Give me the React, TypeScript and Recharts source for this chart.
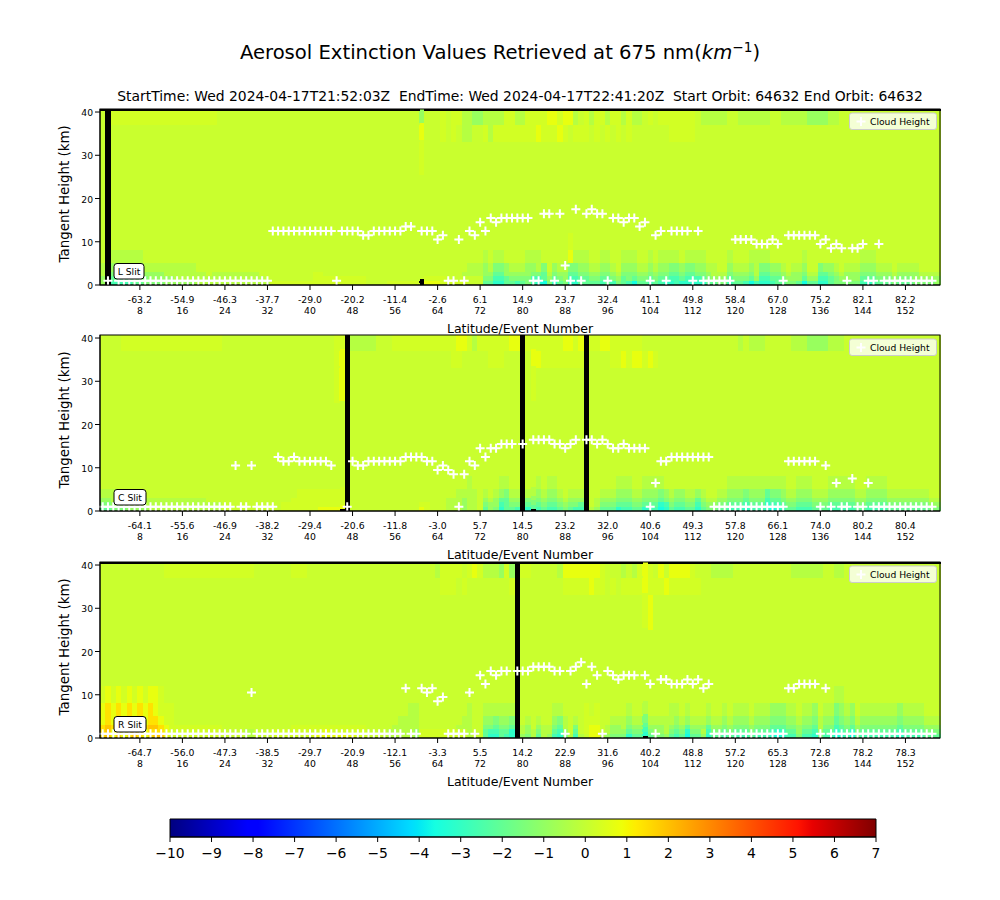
import React from "react";
import { ComposedChart, Bar, Line, XAxis, YAxis } from "recharts";

const FONT = "'DejaVu Sans', sans-serif";
const _ = null;

const eventTicks = [8, 16, 24, 32, 40, 48, 56, 64, 72, 80, 88, 96, 104, 112, 120, 128, 136, 144, 152];
const latL = ["-63.2", "-54.9", "-46.3", "-37.7", "-29.0", "-20.2", "-11.4", "-2.6", "6.1", "14.9", "23.7", "32.4", "41.1", "49.8", "58.4", "67.0", "75.2", "82.1", "82.2"];
const latC = ["-64.1", "-55.6", "-46.9", "-38.2", "-29.4", "-20.6", "-11.8", "-3.0", "5.7", "14.5", "23.2", "32.0", "40.6", "49.3", "57.8", "66.1", "74.0", "80.2", "80.4"];
const latR = ["-64.7", "-56.0", "-47.3", "-38.5", "-29.7", "-20.9", "-12.1", "-3.3", "5.5", "14.2", "22.9", "31.6", "40.2", "48.8", "57.2", "65.3", "72.8", "78.2", "78.3"];

const heightTicks = [0, 10, 20, 30, 40];
const bandEdges = [0, 1, 2, 3, 5, 8, 12, 25, 33, 37, 40.35];
const colorTicks = [-10, -9, -8, -7, -6, -5, -4, -3, -2, -1, 0, 1, 2, 3, 4, 5, 6, 7];

// Extinction value for each letter used in the band strings below.
const levelValues: Record<string, number> = {
  "0": -3.6, "1": -3.1, "2": -2.6, "3": -2.0, "4": -1.4, "5": -0.9, "6": -0.3,
  "7": 0.1, "8": 0.3, "9": 0.75, A: 1.4, B: 1.9,
};

const cloudL = [
  _, 1, _, 1, 1, 1, 1, 1, 1, 1,
  1, 1, 1, 1, 1, 1, 1, 1, 1, 1,
  1, 1, 1, 1, 1, 1, 1, 1, 1, 1,
  1, 1, 12.5, 12.5, 12.5, 12.5, 12.5, 12.5, 12.5, 12.5,
  12.5, 12.5, 12.5, 12.5, 1, 12.5, 12.5, 12.5, 12.5, 11.5,
  11.5, 12.5, 12.5, 12.5, 12.5, 12.5, 12.5, 13.5, 13.5, _,
  12.5, 12.5, 12.5, 10.5, 11.5, 1, 1, 10.5, 1, 12.5,
  11.5, 14.5, 12.5, 15.5, 14.5, 15.5, 15.5, 15.5, 15.5, 15.5,
  15.5, 1, 1, 16.5, 16.5, 1, 16.5, 4.5, 1, 17.5,
  1, 16.5, 17.5, 16.5, 16.5, 1, 15.5, 15.5, 14.5, 15.5,
  15.5, 13.5, 14.5, 1, 11.5, 12.5, 1, 12.5, 12.5, 12.5,
  12.5, 1, 12.5, 1, 1, 1, 1, 1, 1, 10.5,
  10.5, 10.5, 10.5, 9.5, 9.5, 9.5, 10.5, 9.5, 1, 11.5,
  11.5, 11.5, 11.5, 11.5, 11.5, 9.5, 10.5, 8.5, 9.5, 8.5,
  1, 8.5, 8.5, 9.5, 1, 1, 9.5, 1, 1, 1,
  1, 1, 1, 1, 1, 1, 1, _,
];
const cloudC = [
  1, 1, 1, 1, 1, 1, 1, 1, 1, 1,
  1, 1, 1, 1, 1, 1, 1, 1, 1, 1,
  1, 1, 1, 1, 1, 10.5, 1, 1, 10.5, 1,
  1, 1, 1, 12.5, 11.5, 11.5, 12.5, 11.5, 11.5, 11.5,
  11.5, 11.5, 11.5, 10.5, _, _, 1, 11.5, 10.5, 10.5,
  11.5, 11.5, 11.5, 11.5, 11.5, 11.5, 11.5, 12.5, 12.5, 12.5,
  12.5, 11.5, 11.5, 9.5, 10.5, 9.5, 8.5, 1, 8.5, 11.5,
  10.5, 14.5, 12.5, 14.5, 14.5, 15.5, 15.5, 15.5, _, 15.5,
  _, 16.5, 16.5, 16.5, 16.5, 15.5, 15.5, 14.5, 15.5, 16.5,
  _, 16.5, 16.5, 15.5, 16.5, 15.5, 14.5, 14.5, 15.5, 14.5,
  14.5, 14.5, 14.5, 1, 6.5, 11.5, 11.5, 12.5, 12.5, 12.5,
  12.5, 12.5, 12.5, 12.5, 12.5, 1, 1, 1, 1, 1,
  1, 1, 1, 1, 1, 1, 1, 1, 1, 11.5,
  11.5, 11.5, 11.5, 11.5, 11.5, 1, 10.5, 1, 6.5, 1,
  1, 7.5, 1, 1, 6.5, 1, 1, 1, 1, 1,
  1, 1, 1, 1, 1, 1, 1, _,
];
const cloudR = [
  1, 1, 1, 1, 1, 1, 1, 1, 1, 1,
  1, 1, 1, 1, 1, 1, 1, 1, 1, 1,
  1, 1, 1, 1, 1, 1, 1, 1, 10.5, 1,
  1, 1, 1, 1, 1, 1, 1, 1, 1, 1,
  1, 1, 1, 1, 1, 1, 1, 1, 1, 1,
  1, 1, 1, 1, 1, 1, 1, 11.5, 1, 1,
  11.5, 10.5, 11.5, 8.5, 9.5, 1, 1, 1, 1, 10.5,
  1, 14.5, 12.5, 15.5, 14.5, 15.5, 15.5, _, 15.5, 15.5,
  15.5, 16.5, 16.5, 16.5, 16.5, 15.5, 15.5, 1, 15.5, 16.5,
  17.5, 12.5, 16.5, 14.5, 1, 15.5, 14.5, 13.5, 14.5, 14.5,
  14.5, _, 14.5, 12.5, 1, 13.5, 13.5, 12.5, 12.5, 12.5,
  13.5, 12.5, 13.5, 11.5, 12.5, 1, 1, 1, 1, 1,
  1, 1, 1, 1, 1, 1, 1, 1, 1, 11.5,
  11.5, 12.5, 12.5, 12.5, 12.5, 1, 11.5, 1, 1, 1,
  1, 1, 1, 1, 1, 1, 1, 1, 1, 1,
  1, 1, 1, 1, 1, 1, 1, _,
];

// Each string: one height band, one letter per event, 10 events per group ("x" = no data).
const bandsL = [
  "5x22223344 4455555566 6666666666 6688888888 8888888888 7777888888 x999888887 7733113323 4210413411 3333232432 0332321121 1111334423 3202112334 4303311344 4442123334 33344445",
  "5x33334445 5555666666 6666666666 6777777777 8888888888 7777777777 7888877777 7744223444 4223534522 3344334534 3443433223 2223455534 4435223345 5535522345 5553334445 44455555",
  "6x44444555 5566666666 7666666666 7777777777 8877777777 7777777777 7777777766 6655335555 5443645533 4455445644 4554544334 3344566645 5546334456 5546633456 5554445556 55556666",
  "6x55555566 6666666677 7777777777 7777777777 7777777777 7777777777 7777777776 6656445666 5564756644 5566556755 5665655445 4455667756 6656445567 6657745567 6665556667 66667777",
  "7x66666677 7777777777 7777777777 7777777777 7777777777 7777777777 7777777777 7767667777 6667777796 6677667766 6776766667 6666777767 7766667777 7767777777 7776667777 77777777",
  "7x77777777 7777777777 7777777777 7777777777 7777777777 7777777777 7777777777 7777777777 7777777787 7777777777 7777777777 7777777777 7777777777 7777777777 7777777777 77777777",
  "7x77777777 7777777777 7777777777 7777777777 7777777777 7777777777 7777777777 7777777777 7777777777 7777777777 7777777777 7777777777 7777777777 7777777777 7777777777 77777777",
  "7x77777777 7777777777 7777777777 7777777777 7777777777 7777777777 8777777777 7777777777 7777777777 7777777777 7777777777 7777777777 7777777777 7777777777 7777777777 77777777",
  "7x77777777 7777777777 7777777777 7777777777 7777777777 7777777777 9777878766 7786888888 8898889878 8878787878 7777777888 8877777777 7777777777 7777777777 7777777777 77777777",
  "7x88888888 8888888888 8877777777 7777777777 7777777777 7777777777 5777878866 5566668866 8888998996 7868868868 6678788888 8876666677 6666667766 6665555667 7777777777 77777777",
];
const bandsC = [
  "3344455556 6666666666 6667777777 7777888888 899999x777 7777777777 9877766656 673541332x 1323223432 2x65333122 3312201322 3313443322 2122210123 3222333222 2233222233 33333344",
  "4455566666 6666666666 6667777777 7777888888 888888x777 7777777777 8877766656 674552344x 3434334544 3x76444333 4433312433 4424554433 3233312234 4333444333 3344333344 44444455",
  "5566666666 6666666666 7777777777 7777778888 888888x777 7777777777 7777766656 675653355x 4545445655 5x76555444 5544434544 5535665544 4344423345 5444555444 4455444455 55555566",
  "6666777777 7777777777 7777777777 7777777888 888888x777 7777777777 7777777666 676765466x 6656556766 6x77666555 6655545655 6656776655 5455534456 6555666555 5566555566 66666677",
  "7777777777 7777777777 7777777777 7777777777 777777x777 7777777777 7777777776 777776677x 7767667777 7x77777666 7766667777 7777777766 6666666667 7666777666 6677666677 77777777",
  "7777777777 7777777777 7777777777 7777777777 777777x777 7777777777 7777777777 777777777x 7777777777 7x77777777 7777777777 7777777777 7777777777 7777777777 7777777777 77777777",
  "7777777777 7777777777 7777777777 7777777777 777777x777 7777777777 7777777777 777777777x 7777777777 7x77777777 7777777777 7777777777 7777777777 7777777777 7777777777 77777777",
  "7777777777 7777777777 7777777777 7777777777 777789x777 7777777777 7777777777 777777777x 7877777777 7x77777777 7777777777 7777777777 7777777777 7777777777 7777777777 77777777",
  "7777777777 7777777777 7777777777 7777777777 777789x777 7777777777 7777778877 777888777x 7998888888 8x77778898 9989877777 7777777777 7777777777 7777777777 7777777777 77777777",
  "7777888888 8888888888 8887777777 7777777777 777788x666 6677788888 8888888998 688888899x 8888888998 9x88998888 8877777777 7777777777 6766677777 6665555666 7777777777 77777777",
];
const bandsR = [
  "AB9B9ABA9A BB98888888 8887777667 7788888888 9999999988 7777666665 8888888886 77311321x5 4636521462 6799654441 3313445323 0335133232 2232221012 2422142201 2032222222 12222333",
  "AB9B9ABA9A AA98888888 8887777667 7788888888 8898888888 7777666665 8888888876 77322331x6 5646632573 7899765553 4424556434 1446244343 3343332123 3533253312 3143333333 23333444",
  "ABABABABAB BA98888888 8887777777 7777778888 8888888888 7777766666 7777777666 77443443x6 5756643674 7899765564 5535556545 3555355454 4454443334 4544364423 4354444444 34444555",
  "9A9A9A9A9A A988777777 7777777777 7777777777 7777777777 7777776666 7777777766 77554554x7 6767754676 7888776665 6646666656 5666566565 5565554445 5655465534 5465555555 45555666",
  "9A9A9A9A9A 9888777777 7777777777 7777777777 7777777777 7777777766 7777777776 77666666x7 7777766777 7878777776 7767777667 6777677676 6676665556 6766576645 6576666666 56666777",
  "8989898989 9877777777 7777777777 7777777777 7777777777 7777777777 7777777777 77777777x7 7777777777 7777777777 7777777777 7777777777 7777777777 7777777766 7777777777 77777777",
  "7777777777 7777777777 7777777777 7777777777 7777777777 7777777777 7777777777 77777777x7 7777777777 7777777777 7777777777 7777777777 7777777777 7777777777 7777777777 77777777",
  "7777777777 7777777777 7777777777 7777777777 7777777777 7777777777 7777777777 77777777x7 7777777777 7777777777 7789777777 7777777777 7777777777 7777777777 7777777777 77777777",
  "7777777777 7777777777 7777777777 7777777777 7777777777 7777777777 7777888787 77777778x7 7777777888 8898878788 8898889888 8887777777 7777777777 7777777777 7777777777 77777777",
  "7777777777 7788888888 8888888887 7777778887 7777777777 7777777777 7776888878 98666585x8 8777776999 9999877767 6898797999 9877766667 7777777777 6666667766 7777777777 77777777",
];

// Events with a small patch of missing data at the ground.
const groundGapL = [61];
const groundGapC = [46, 82];
const groundGapR = [103];

const jetKnots = {
  r: [[0, 0], [0.35, 0], [0.66, 1], [0.89, 1], [1, 0.5]],
  g: [[0, 0], [0.125, 0], [0.375, 1], [0.64, 1], [0.91, 0], [1, 0]],
  b: [[0, 0.5], [0.11, 1], [0.34, 1], [0.65, 0], [1, 0]],
};
function knotValue(k: number[][], t: number) {
  for (let i = 1; i < k.length; i++) {
    if (t <= k[i][0]) {
      const f = (t - k[i - 1][0]) / (k[i][0] - k[i - 1][0]);
      return k[i - 1][1] + f * (k[i][1] - k[i - 1][1]);
    }
  }
  return k[k.length - 1][1];
}
function jet(v: number) {
  const t = Math.min(1, Math.max(0, (v + 10) / 17));
  const c = (k: number[][]) => Math.round(255 * knotValue(k, t));
  return `rgb(${c(jetKnots.r)},${c(jetKnots.g)},${c(jetKnots.b)})`;
}
const gradientStops = [0, 0.11, 0.125, 0.34, 0.35, 0.375, 0.5, 0.64, 0.65, 0.66, 0.89, 0.91, 1];

function buildRows(bands: string[], cloud: (number | null)[], gaps: number[], blackTop: boolean) {
  const cols = bands.map((b) => b.replace(/ /g, ""));
  return cloud.map((h, i) => {
    const row: any = { event: i + 1, cloud: h, gap: gaps.includes(i + 1) ? 0.45 : 0 };
    cols.forEach((s, k) => {
      const ch = s[i] ?? "7";
      row[`b${k}`] = bandEdges[k + 1] - bandEdges[k];
      row[`c${k}`] = ch === "x" ? "#000" : jet(levelValues[ch]);
    });
    row.capLight = blackTop ? 0 : 0.5;
    row.capDark = blackTop ? 0.5 : 0;
    row.capColor = row[`c${cols.length - 1}`];
    return row;
  });
}

const CellRect = (k: number) => (p: any) => (
  <rect x={p.x} y={p.y} width={p.width + 1} height={p.height} fill={p.payload[`c${k}`]} shapeRendering="crispEdges" />
);
const GapRect = (p: any) => (
  <rect x={p.x} y={p.y} width={p.width + 1} height={p.height} fill="#000" shapeRendering="crispEdges" />
);
const CapRect = (p: any) => (
  <rect x={p.x} y={p.y} width={p.width + 1} height={p.height} fill={p.payload.capColor} shapeRendering="crispEdges" />
);
const PlusDot = (p: any) => {
  if (p.value == null || p.cy == null) return <g key={p.index} />;
  return (
    <path key={p.index} d={`M${p.cx - 4.5},${p.cy}H${p.cx + 4.5}M${p.cx},${p.cy - 4.5}V${p.cy + 4.5}`} stroke="#fff" strokeWidth={2} fill="none" />
  );
};
const HeightTick = (p: any) => (
  <text x={p.x} y={p.y + 4} textAnchor="end" fontSize={9.2} fill="#000" fontFamily={FONT}>{p.payload.value}</text>
);

const plotLeft = 100;
const plotW = 840;
const plotH = 176;
const topPad = 9;

function Panel({ top, rows, lats, slit }: any) {
  const Tick = (p: any) => {
    const i = eventTicks.indexOf(p.payload.value);
    return (
      <g>
        <text x={p.x} y={p.y + 11} textAnchor="middle" fontSize={9.3} fill="#000" fontFamily={FONT}>{lats[i]}</text>
        <text x={p.x} y={p.y + 22} textAnchor="middle" fontSize={9.3} fill="#000" fontFamily={FONT}>{p.payload.value}</text>
      </g>
    );
  };
  return (
    <div style={{ position: "absolute", left: 0, top: top - topPad, width: 1000, height: 240 }}>
      <ComposedChart width={1000} height={240} data={rows} margin={{ top: topPad, right: 60, left: 0, bottom: 0 }} barCategoryGap={0} barGap={0}>
        <Bar dataKey="gap" stackId="h" isAnimationActive={false} shape={GapRect} />
        {bandEdges.slice(1).map((_e, j) => (
          <Bar key={j} dataKey={`b${j}`} stackId="h" isAnimationActive={false} shape={CellRect(j)} />
        ))}
        <Bar dataKey="capLight" stackId="h" isAnimationActive={false} shape={CapRect} />
        <Bar dataKey="capDark" stackId="h" isAnimationActive={false} shape={GapRect} />
        <XAxis
          dataKey="event"
          type="category"
          ticks={eventTicks}
          interval={0}
          height={55}
          tick={Tick}
          tickSize={5}
          stroke="#000"
          label={{ value: "Latitude/Event Number", position: "insideBottom", offset: 7, fontSize: 12.55, fill: "#000", fontFamily: FONT }}
        />
        <YAxis
          type="number"
          domain={[0, 40.7]}
          allowDataOverflow
          ticks={heightTicks}
          width={plotLeft}
          tickSize={5}
          stroke="#000"
          tick={HeightTick}
          label={{ value: "Tangent Height (km)", angle: -90, position: "insideLeft", offset: 64, dy: 65.5, fontSize: 13.4, fill: "#000", fontFamily: FONT }}
        />
        <Line dataKey="cloud" stroke="none" dot={PlusDot} activeDot={false} isAnimationActive={false} name="Cloud Height" />
      </ComposedChart>
      <svg width={1000} height={240} style={{ position: "absolute", left: 0, top: 0, pointerEvents: "none" }}>
        <rect x={plotLeft} y={topPad} width={plotW} height={plotH} fill="none" stroke="#000" strokeWidth={1} />
        <rect x={849.5} y={topPad + 4} width={87} height={16.5} rx={2.5} fill="#fff" fillOpacity={0.8} stroke="#ccc" strokeWidth={1} />
        <path d={`M856.5,${topPad + 12.5}H865.5M861,${topPad + 8}V${topPad + 17}`} stroke="#fff" strokeWidth={2} />
        <text x={870} y={topPad + 16} fontSize={9.2} fill="#000" fontFamily={FONT}>Cloud Height</text>
        <rect x={114} y={topPad + 154.5} width={slit.w} height={15.5} rx={3} fill="#fff" stroke="#000" strokeWidth={1} />
        <text x={114 + slit.w / 2} y={topPad + 165.5} textAnchor="middle" fontSize={9.2} fill="#000" fontFamily={FONT}>{slit.name}</text>
      </svg>
    </div>
  );
}

const rowsL = buildRows(bandsL, cloudL, groundGapL, true);
const rowsC = buildRows(bandsC, cloudC, groundGapC, false);
const rowsR = buildRows(bandsR, cloudR, groundGapR, true);
const colorbarRows = [{ name: "scale", range: [-10, 7] }];

export default function App() {
  return (
    <div style={{ position: "absolute", left: 0, top: 0, width: 1000, height: 900, background: "#fff", overflow: "hidden" }}>
      <svg width={1000} height={110} style={{ position: "absolute", left: 0, top: 0 }}>
        <text x={500} y={59} textAnchor="middle" fontSize={19.6} fill="#000" fontFamily={FONT}>
          Aerosol Extinction Values Retrieved at 675 nm(<tspan fontStyle="italic">km</tspan>
          <tspan dy={-7} fontSize={13.7}>−1</tspan>
          <tspan dy={7}>)</tspan>
        </text>
        <text x={520} y={101} textAnchor="middle" fontSize={13.9} fill="#000" fontFamily={FONT} xmlSpace="preserve">
          {"StartTime: Wed 2024-04-17T21:52:03Z  EndTime: Wed 2024-04-17T22:41:20Z  Start Orbit: 64632 End Orbit: 64632"}
        </text>
      </svg>
      <Panel top={109} rows={rowsL} lats={latL} slit={{ name: "L Slit", w: 30 }} />
      <Panel top={335} rows={rowsC} lats={latC} slit={{ name: "C Slit", w: 32 }} />
      <Panel top={562} rows={rowsR} lats={latR} slit={{ name: "R Slit", w: 32 }} />
      <div style={{ position: "absolute", left: 0, top: 809, width: 1000, height: 70 }}>
        <ComposedChart layout="vertical" width={1000} height={70} data={colorbarRows} margin={{ top: 10, right: 124, left: 170, bottom: 0 }} barCategoryGap={0}>
          <defs>
            <linearGradient id="jetGrad" x1="0" y1="0" x2="1" y2="0">
              {gradientStops.map((t) => (
                <stop key={t} offset={t} stopColor={jet(t * 17 - 10)} />
              ))}
            </linearGradient>
          </defs>
          <XAxis
            type="number"
            domain={[-10, 7]}
            ticks={colorTicks}
            interval={0}
            height={42}
            tickSize={5}
            tickMargin={6}
            stroke="#000"
            tickFormatter={(v: number) => String(v).replace("-", "−")}
            tick={{ fontSize: 13.9, fill: "#000", fontFamily: FONT }}
          />
          <YAxis hide type="category" dataKey="name" width={0} />
          <Bar dataKey="range" fill="url(#jetGrad)" stroke="#000" strokeWidth={1} isAnimationActive={false} />
        </ComposedChart>
      </div>
    </div>
  );
}
